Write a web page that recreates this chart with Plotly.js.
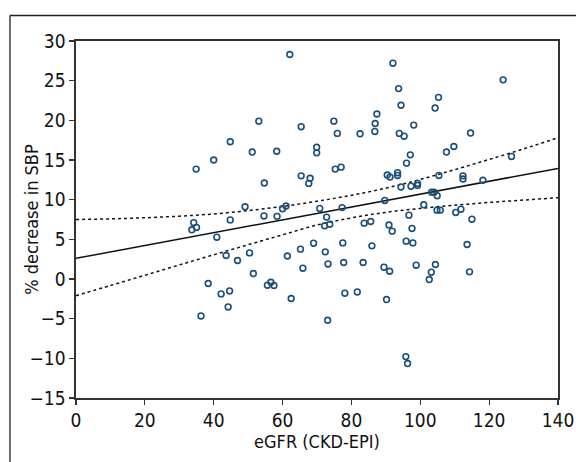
<!DOCTYPE html>
<html>
<head>
<meta charset="utf-8">
<script src="https://cdn.plot.ly/plotly-3.0.1.min.js"></script>
<style>
html,body{margin:0;padding:0;background:#fff;}
#chart{width:576px;height:462px;}
</style>
</head>
<body>
<div id="chart"></div>
<script>
// Data
const egfr = [62.1,53.1,65.4,44.8,51.2,58.3,40.0,34.9,54.7,65.4,49.1,61.0,60.0,92.05,93.7,94.4,87.4,74.9,86.9,86.8,75.9,82.5,93.9,95.3,98.1,69.9,69.9,97.1,96.0,68.0,67.6,75.3,77.0,90.4,91.2,93.4,93.4,94.4,97.3,70.8,77.3,89.7,124.05,105.3,104.3,114.6,109.75,107.6,126.5,105.4,112.4,112.4,118.2,99.2,99.2,103.3,104.0,104.9,101.0,111.8,34.2,33.65,35.0,44.8,54.6,58.4,40.9,43.6,46.9,50.4,61.4,65.2,65.9,51.5,38.4,42.15,44.6,44.2,36.3,55.6,56.6,57.5,62.5,72.8,72.2,73.7,83.7,85.6,96.7,90.9,91.85,97.6,69.0,72.4,77.5,85.95,95.9,97.85,73.2,77.75,83.4,89.45,91.1,98.8,78.1,81.7,90.2,73.1,95.8,96.3,104.85,105.8,110.3,115.0,113.6,104.4,103.2,102.6,114.3];
const sbpDecrease = [28.3,19.9,19.2,17.3,16.0,16.1,15.0,13.85,12.1,13.0,9.1,9.2,8.85,27.2,24.0,21.9,20.8,19.9,19.6,18.6,18.35,18.3,18.35,18.0,19.4,16.6,15.9,15.65,14.6,12.7,12.05,13.85,14.1,13.1,12.85,13.4,13.05,11.6,11.7,8.9,9.0,9.9,25.1,22.9,21.55,18.4,16.7,16.0,15.45,13.05,13.0,12.6,12.45,12.05,11.8,10.95,10.95,10.5,9.35,8.8,7.1,6.2,6.5,7.45,7.95,7.9,5.27,2.96,2.33,3.29,2.9,3.76,1.36,0.69,-0.57,-1.88,-1.5,-3.52,-4.66,-0.78,-0.41,-0.82,-2.46,7.8,6.7,6.9,7.04,7.25,8.05,6.8,6.03,6.37,4.51,3.42,4.55,4.18,4.77,4.55,1.9,2.08,2.08,1.49,0.98,1.74,-1.79,-1.63,-2.59,-5.2,-9.78,-10.66,8.68,8.68,8.39,7.54,4.35,1.83,0.86,-0.07,0.9];

const fitX = [0, 140];
const fitY = [2.6, 13.94];

const bandX = [0,10,20,30,40,50,60,70,80,90,100,110,120,130,140];
const bandUpper = [7.5,7.58,7.72,7.92,8.2,8.62,9.15,9.8,10.55,11.45,12.55,13.78,15.07,16.4,17.8];
const bandLower = [-2.1,-0.82,0.47,1.77,3.05,4.32,5.57,6.8,7.7,8.4,8.9,9.3,9.65,9.95,10.25];

const xTicks = [0,20,40,60,80,100,120,140];
const yTicks = [-15,-10,-5,0,5,10,15,20,25,30];

const FONT = "'Liberation Sans Narrow', 'Arial Narrow', 'DejaVu Sans Condensed', sans-serif";

const traces = [
  {x: bandX, y: bandUpper, type: 'scatter', mode: 'lines',
   line: {color: '#111', width: 1.5, dash: 'dot', shape: 'spline'}, hoverinfo: 'skip'},
  {x: bandX, y: bandLower, type: 'scatter', mode: 'lines',
   line: {color: '#111', width: 1.5, dash: 'dot', shape: 'spline'}, hoverinfo: 'skip'},
  {x: fitX, y: fitY, type: 'scatter', mode: 'lines',
   line: {color: '#111', width: 1.5}, hoverinfo: 'skip'},
  {x: egfr, y: sbpDecrease, type: 'scatter', mode: 'markers',
   marker: {symbol: 'circle-open', size: 5.8, color: '#1b4f7a', line: {width: 1.6, color: '#1b4f7a'}}}
];

const layout = {
  width: 576, height: 462,
  margin: {l: 76, r: 18, t: 41, b: 64},
  paper_bgcolor: '#fff', plot_bgcolor: '#fff',
  showlegend: false,
  font: {family: FONT, color: '#111', size: 19},
  xaxis: {
    range: [0, 140], tickvals: xTicks, ticktext: xTicks.map(String),
    showgrid: false, zeroline: false,
    showline: true, mirror: true, linecolor: '#333', linewidth: 1.6,
    ticks: 'outside', ticklen: 5, tickwidth: 1.2, tickcolor: '#333',
    tickfont: {family: FONT, size: 19, color: '#111'},
    title: {text: 'eGFR (CKD-EPI)', font: {family: FONT, size: 18, color: '#111'}, standoff: 4},
    automargin: false
  },
  yaxis: {
    range: [-15, 30], tickvals: yTicks, ticktext: yTicks.map(v => v < 0 ? '\u2212' + Math.abs(v) : String(v)),
    showgrid: false, zeroline: false,
    showline: true, mirror: true, linecolor: '#333', linewidth: 1.6,
    ticks: 'outside', ticklen: 5, tickwidth: 1.2, tickcolor: '#333',
    tickfont: {family: FONT, size: 19, color: '#111'},
    title: {text: '% decrease in SBP', font: {family: FONT, size: 18, color: '#111'}, standoff: 8},
    automargin: false
  },
  shapes: [
    {type: 'line', xref: 'paper', yref: 'paper', x0: -0.137, x1: 1.1, y0: 1.0714, y1: 1.0714,
     line: {color: '#222', width: 1.3}},
    {type: 'line', xref: 'paper', yref: 'paper', x0: -0.137, x1: -0.137, y0: 1.0714, y1: -0.2,
     line: {color: '#222', width: 1.3}}
  ]
};

Plotly.newPlot('chart', traces, layout, {displayModeBar: false, staticPlot: true}).then(function (gd) {
  // place the y-axis title where the reference has it (centre at x = 36 px)
  const t = gd.querySelector('.ytitle');
  if (t) {
    const y = parseFloat(t.getAttribute('y'));
    t.setAttribute('x', 37);
    t.setAttribute('transform', 'rotate(-90,37,' + y + ')');
  }
});
</script>
</body>
</html>
